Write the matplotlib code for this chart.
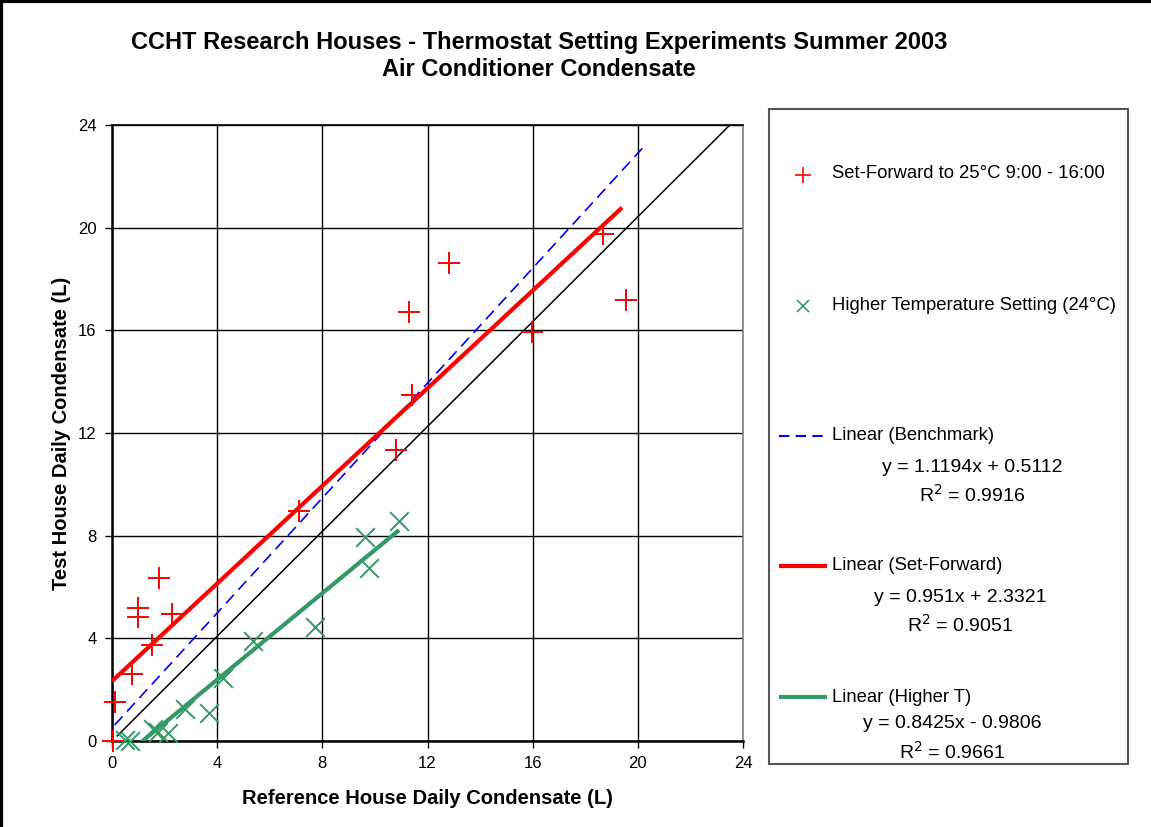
import matplotlib
matplotlib.use("Agg")
import matplotlib.pyplot as plt
from matplotlib.lines import Line2D
from matplotlib.patches import Rectangle
import numpy as np

plt.rcParams['font.family'] = ['Liberation Sans', 'DejaVu Sans']

# Daily condensate (L): reference house vs test house
setforward_ref = [0.05, 0.11, 0.77, 0.98, 0.98, 1.51, 1.80, 2.29, 7.10, 10.80, 11.30, 11.40, 12.83, 15.96, 18.68, 19.54]
setforward_test = [0.00, 1.53, 2.61, 4.84, 5.19, 3.74, 6.34, 4.93, 8.97, 11.34, 16.72, 13.48, 18.63, 15.95, 19.75, 17.18]

higherT_ref = [0.49, 0.68, 1.57, 1.76, 2.14, 2.78, 3.70, 4.23, 5.37, 7.74, 9.62, 9.78, 10.92]
higherT_test = [0.04, 0.00, 0.45, 0.36, 0.30, 1.25, 1.10, 2.44, 3.90, 4.43, 7.94, 6.73, 8.58]

# Linear trendlines: (slope, intercept, x-range)
bench_fit = (1.1194, 0.5112, (0.1, 20.3))
setforward_fit = (0.951, 2.3321, (0.0, 19.4))
higherT_fit = (0.8425, -0.9806, (0.49, 10.92))
bench_label = ("y = 1.1194x + 0.5112", "0.9916")
setforward_label = ("y = 0.951x + 2.3321", "0.9051")
higherT_label = ("y = 0.8425x - 0.9806", "0.9661")

# 1:1 reference line
one_to_one_x = [0.2, 23.5]
one_to_one_y = [0.2, 24.0]

ticks = [0, 4, 8, 12, 16, 20, 24]

W, H = 1151, 827
fig = plt.figure(figsize=(W / 100, H / 100), dpi=100)

def fx(px):
    return px / W

def fy(py):
    return 1 - py / H

ax = fig.add_axes([fx(112), fy(741), fx(743) - fx(112), fy(125) - fy(741)])
ax.set_xlim(0, 24)
ax.set_ylim(0, 24)
ax.set_xticks(ticks)
ax.set_yticks(ticks)
ax.set_xticklabels([str(t) for t in ticks], fontsize=12)
ax.set_yticklabels([str(t) for t in ticks], fontsize=12)
ax.tick_params(direction='out', length=5, width=1, color='black', pad=6)
ax.grid(True, color='black', linewidth=1)
ax.set_axisbelow(True)
for side in ['left', 'bottom']:
    ax.spines[side].set_linewidth(1.8)
    ax.spines[side].set_color('black')
ax.spines['top'].set_linewidth(1.2)
ax.spines['top'].set_color('black')
ax.spines['right'].set_linewidth(1.2)
ax.spines['right'].set_color('#808080')

RED = '#FF0000'
GREEN = '#339966'
BLUE = '#0000FF'

# 1:1 line
ax.plot(one_to_one_x, one_to_one_y, color='black', linewidth=1.1, zorder=3)

def fit_line(fit):
    m, b, (x0, x1) = fit
    xs = np.array([x0, x1])
    return xs, m * xs + b

xs, ys = fit_line(bench_fit)
ax.plot(xs, ys, color=BLUE, linewidth=1.2, dashes=(7, 4), zorder=4)
xs, ys = fit_line(setforward_fit)
ax.plot(xs, ys, color=RED, linewidth=3, zorder=4, solid_capstyle='butt')
xs, ys = fit_line(higherT_fit)
ax.plot(xs, ys, color=GREEN, linewidth=3, zorder=4, solid_capstyle='butt')

ax.scatter(setforward_ref, setforward_test, marker='+', s=260, color=RED, linewidths=1.4, zorder=5, clip_on=False)
ax.scatter(higherT_ref, higherT_test, marker='x', s=180, color=GREEN, linewidths=1.4, zorder=5, clip_on=False)

ax.set_xlabel('Reference House Daily Condensate (L)', fontsize=14.5, fontweight='bold', labelpad=13)
ax.set_ylabel('Test House Daily Condensate (L)', fontsize=14.5, fontweight='bold', labelpad=5)

# Title
fig.text(fx(539), fy(42), 'CCHT Research Houses - Thermostat Setting Experiments Summer 2003',
         fontsize=17, fontweight='bold', ha='center', va='center')
fig.text(fx(539), fy(70), 'Air Conditioner Condensate',
         fontsize=17, fontweight='bold', ha='center', va='center')

# Legend box
fig.patches.append(Rectangle((fx(769), fy(764)), fx(1128) - fx(769), fy(109) - fy(764),
                             transform=fig.transFigure, facecolor='white',
                             edgecolor='#555555', linewidth=1.5))

LFS = 13.3
EFS = 14
fig.lines.append(Line2D([fx(803)], [fy(175)], marker='+', markersize=11, markeredgewidth=1.2,
                        color=RED, transform=fig.transFigure))
fig.text(fx(832), fy(174), 'Set-Forward to 25°C 9:00 - 16:00', fontsize=LFS, va='center')
fig.lines.append(Line2D([fx(803)], [fy(306)], marker='x', markersize=9, markeredgewidth=1.2,
                        color=GREEN, transform=fig.transFigure))
fig.text(fx(832), fy(306), 'Higher Temperature Setting (24°C)', fontsize=LFS, va='center')

entries = [
    (436, BLUE, 1.5, (5, 3), 'Linear (Benchmark)', bench_label, 972),
    (566, RED, 3, None, 'Linear (Set-Forward)', setforward_label, 960),
    (697, GREEN, 3, None, 'Linear (Higher T)', higherT_label, 952),
]
for y, col, lw, dash, name, (eq, r2), cx in entries:
    ln = Line2D([fx(779), fx(827)], [fy(y), fy(y)], color=col, linewidth=lw,
                transform=fig.transFigure, solid_capstyle='butt')
    if dash:
        ln.set_dashes(dash)
    fig.lines.append(ln)
    fig.text(fx(832), fy(y), name, fontsize=LFS, va='center')
    dy_eq = 31 if y != 697 else 27
    fig.text(fx(cx), fy(y + dy_eq), eq, fontsize=EFS, ha='center', va='center')
    fig.text(fx(cx), fy(y + dy_eq + 28), r'R$^{2}$ = ' + r2, fontsize=EFS, ha='center', va='center')

# Outer chart border (left and top edges)
fig.lines.append(Line2D([0.001, 0.001], [0, 1], color='black', linewidth=3, transform=fig.transFigure))
fig.lines.append(Line2D([0, 1], [0.999, 0.999], color='black', linewidth=3, transform=fig.transFigure))

fig.savefig('out.png', dpi=100, facecolor='white')
